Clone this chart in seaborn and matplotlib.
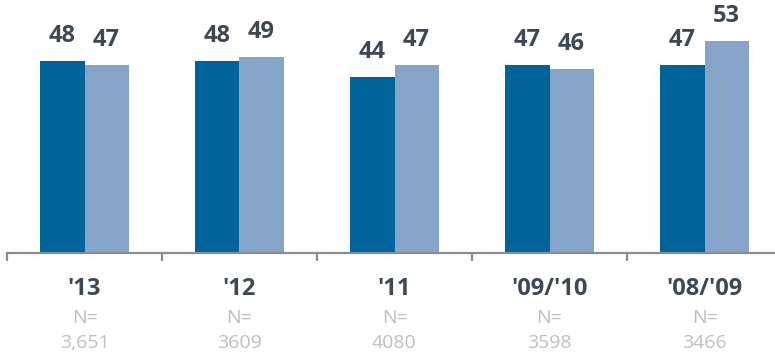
import numpy as np
import pandas as pd
import seaborn as sns
import matplotlib.pyplot as plt
import matplotlib.transforms as mtransforms

years = ["'13", "'12", "'11", "'09/'10", "'08/'09"]
n_labels = ["3,651", "3609", "4080", "3598", "3466"]
series_a = [48, 48, 44, 47, 47]
series_b = [47, 49, 47, 46, 53]

DARK = '#00639A'
LIGHT = '#86A4C7'
TEXT = '#3E4855'
GREY = '#BFBFBF'

sns.set_style('white')
plt.rcParams['font.family'] = ['Open Sans', 'DejaVu Sans']

df = pd.DataFrame({
    'year': years * 2,
    'value': series_a + series_b,
    'series': ['a'] * len(years) + ['b'] * len(years),
})

fig = plt.figure(figsize=(7.75, 3.55), dpi=100)
ax = fig.add_axes([7 / 775, 102 / 355, 775 / 775, 253 / 355])

sns.barplot(data=df, x='year', y='value', hue='series', palette=[DARK, LIGHT],
            width=0.568, saturation=1, legend=False, linewidth=0, ax=ax)

for cont in ax.containers:
    ax.bar_label(cont, padding=9, fontsize=17, fontweight='bold', color=TEXT)

ax.set_xlim(-0.5, 4.5)
ax.set_ylim(0, 63.25)
ax.set_xlabel('')
ax.set_ylabel('')
ax.set_yticks([])

for s in ['top', 'right', 'left']:
    ax.spines[s].set_visible(False)
ax.spines['bottom'].set_color('#8C8C8C')
ax.spines['bottom'].set_linewidth(1.6)

ax.set_xticks(np.arange(len(years)))
ax.set_xticklabels(years, fontsize=17, fontweight='bold', color=TEXT)
ax.tick_params(axis='x', which='major', length=0, pad=17)
ax.set_xticks(np.arange(len(years)) - 0.5, minor=True)
ax.tick_params(axis='x', which='minor', length=6, width=1.6, color='#8C8C8C',
               direction='out', bottom=True)

trans = mtransforms.blended_transform_factory(ax.transData, fig.transFigure)
for i, n in enumerate(n_labels):
    ax.text(i, 1 - 318 / 355, 'N=', ha='center', va='center', fontsize=14,
            color=GREY, transform=trans)
    ax.text(i, 1 - 343 / 355, n, ha='center', va='center', fontsize=14,
            color=GREY, transform=trans)

fig.savefig('out.png', dpi=100)
